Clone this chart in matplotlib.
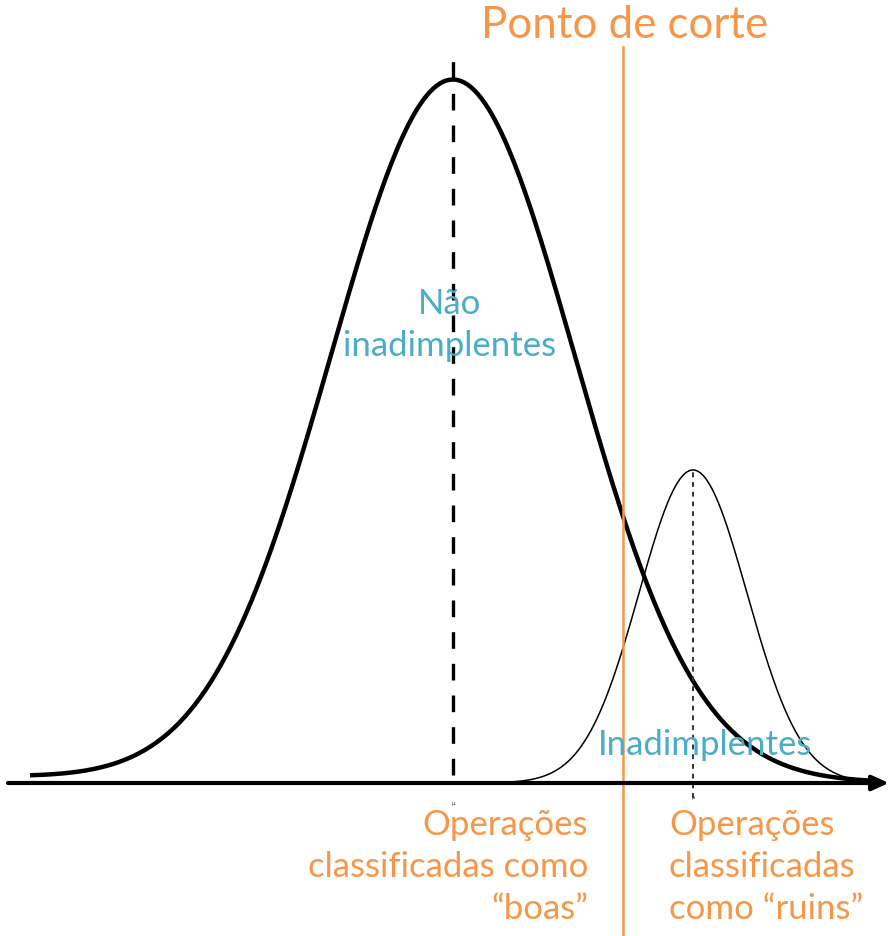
import numpy as np
import matplotlib.pyplot as plt

# Two score distributions and the cut-off between them
names = ['Não\ninadimplentes', 'Inadimplentes']
means = [453, 693]
sigmas = [122, 54]
peaks = [702, 313]
x_from = [30, 515]
x_to = [880, 870]
cutoff = 623

orange = '#F79646'
teal = '#4BACC6'
font = ['Lato', 'DejaVu Sans']


def gauss(x, mu, sd, h):
    return h * np.exp(-0.5 * ((x - mu) / sd) ** 2)


fig = plt.figure(figsize=(8.9, 9.36), dpi=100)
ax = fig.add_axes([0, 0, 1, 1])
ax.set_xlim(0, 890)
ax.set_ylim(-153, 783)
ax.axis('off')

# horizontal axis with arrow
ax.annotate('', xy=(889, 0), xytext=(8, 0),
            arrowprops=dict(arrowstyle='-|>,head_length=1.0,head_width=0.45',
                            lw=3, color='black', shrinkA=0, shrinkB=0))

# good payers: thick curve
x = np.linspace(x_from[0], x_to[0], 500)
ax.plot(x, gauss(x, means[0], sigmas[0], peaks[0]) + 6 * np.exp(-((x - x_from[0]) / 300)),
        color='black', lw=3.2, solid_capstyle='butt')
ax.plot([means[0], means[0]], [8, 728], color='black', lw=2.4,
        linestyle=(0, (5, 4.5)))

# defaulters: thin curve
x2 = np.linspace(x_from[1], x_to[1], 300)
ax.plot(x2, gauss(x2, means[1], sigmas[1], peaks[1]), color='black', lw=1.1)
ax.plot([means[1], means[1]], [-15, peaks[1]], color='#333333', lw=1.4,
        linestyle=(0, (2.5, 2.5)))

# tiny mu markers under the axis
ax.text(means[0], -20, 'μ', fontsize=4, ha='center', va='center', color='#333333')
ax.text(means[1], -15, 'μ', fontsize=3.5, ha='center', va='center', color='#333333')

# cut-off line
ax.plot([cutoff, cutoff], [-153, 736], color=orange, lw=1.8)
ax.text(cutoff + 2, 758, 'Ponto de corte', color=orange, fontsize=31.5,
        ha='center', va='center', family=font)

ax.text(450, 458, names[0], color=teal, fontsize=25, ha='center', va='center',
        linespacing=1.4, family=font)
ax.text(705, 38, names[1], color=teal, fontsize=25, ha='center', va='center',
        family=font)

ax.text(588, -84, 'Operações\nclassificadas como\n\u201cboas\u201d', color=orange,
        fontsize=25, ha='right', va='center', linespacing=1.4, family=font)
ax.text(669, -84, 'Operações\nclassificadas\ncomo \u201cruins\u201d', color=orange,
        fontsize=25, ha='left', va='center', linespacing=1.4, family=font)

fig.savefig('out.png', dpi=100)
